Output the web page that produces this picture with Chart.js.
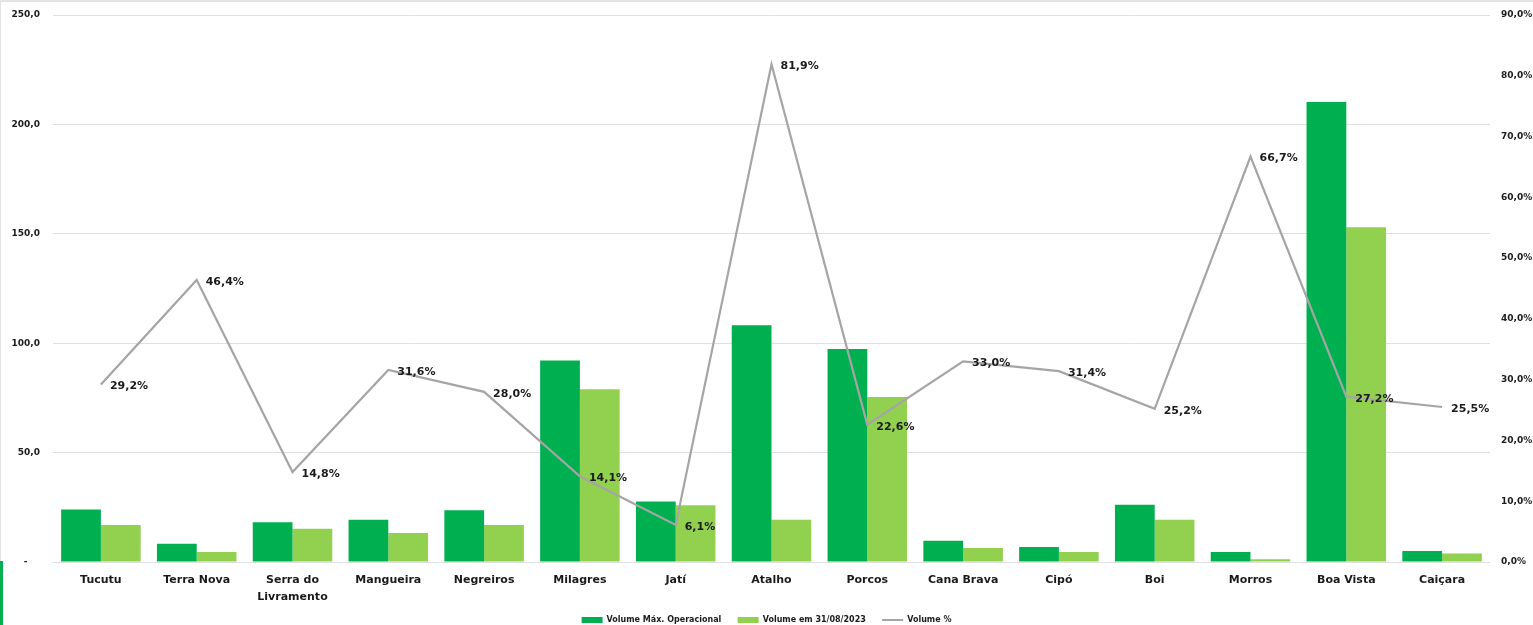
<!DOCTYPE html>
<html>
<head>
<meta charset="utf-8">
<script src="https://cdn.jsdelivr.net/npm/chart.js@4"></script>
<style>
  body { margin: 0; background: #fff; }
  #wrap { position: relative; width: 1533px; height: 625px; }
  #moldura { position: absolute; left: 0; top: 0; width: 1532px; height: 624px;
    border-top: 2px solid #e3e3e3; border-left: 1px solid #e3e3e3; pointer-events: none; }
  #faixa { position: absolute; left: 0; top: 561px; width: 3px; height: 64px; background: #00b050; }
</style>
</head>
<body>
<div id="wrap">
  <canvas id="myChart" width="1533" height="625"></canvas>
  <div id="moldura"></div>
  <div id="faixa"></div>
</div>
<script>
const acudes = ["Tucutu", "Terra Nova", ["Serra do", "Livramento"], "Mangueira", "Negreiros", "Milagres", "Jatí", "Atalho", "Porcos", "Cana Brava", "Cipó", "Boi", "Morros", "Boa Vista", "Caiçara"]
const volumeMax = [24.0, 8.3, 18.2, 19.3, 23.7, 92.1, 27.7, 108.2, 97.4, 9.7, 6.8, 26.2, 4.6, 210.2, 5.0]
const volumeAtual = [16.9, 4.6, 15.2, 13.2, 16.9, 78.9, 25.9, 19.3, 75.4, 6.4, 4.6, 19.3, 1.3, 153.0, 3.9]
const volumePct = [29.2, 46.4, 14.8, 31.6, 28.0, 14.1, 6.1, 81.9, 22.6, 33.0, 31.4, 25.2, 66.7, 27.2, 25.5]
const ticksEsq = [0, 50, 100, 150, 200, 250]
const ticksDir = [0, 10, 20, 30, 40, 50, 60, 70, 80, 90]

const fonte = "'DejaVu Sans'"
const corTexto = "#1a1a1a"

function virgula(v) {
    return v.toFixed(1).replace(".", ",")
}

// rotulos do % ao lado de cada ponto
const rotulosPct = {
    id: "rotulosPct",
    afterDatasetsDraw(chart) {
        const meta = chart.getDatasetMeta(2)
        const ctx = chart.ctx
        ctx.save()
        ctx.font = "bold 11px " + fonte
        ctx.fillStyle = corTexto
        ctx.textAlign = "left"
        ctx.textBaseline = "middle"
        meta.data.forEach((pt, i) => {
            ctx.fillText(virgula(volumePct[i]) + "%", pt.x + 9, pt.y + 2)
        })
        ctx.restore()
    }
}

const ctx = document.getElementById("myChart").getContext("2d")
window.myChart = new Chart(ctx, {
    type: "bar",
    data: {
        labels: acudes,
        datasets: [{
            label: "Volume Máx. Operacional",
            data: volumeMax,
            backgroundColor: "#00b050",
            borderWidth: 0,
            yAxisID: "y",
            order: 1
        }, {
            label: "Volume em 31/08/2023",
            data: volumeAtual,
            backgroundColor: "#92d050",
            borderWidth: 0,
            yAxisID: "y",
            order: 2
        }, {
            type: "line",
            label: "Volume %",
            data: volumePct,
            borderColor: "#a5a5a5",
            backgroundColor: "#a5a5a5",
            borderWidth: 2.2,
            pointRadius: 0,
            tension: 0,
            yAxisID: "y1",
            order: 0
        }]
    },
    options: {
        responsive: false,
        animation: false,
        layout: { padding: { top: 15, left: 0, right: 0, bottom: -9 } },
        datasets: { bar: { barPercentage: 1.0, categoryPercentage: 0.83 } },
        plugins: {
            tooltip: { enabled: false },
            legend: {
                position: "bottom",
                labels: {
                    usePointStyle: true,
                    pointStyleWidth: 21,
                    boxHeight: 6,
                    padding: 8,
                    color: corTexto,
                    font: { family: fonte, size: 8, weight: "bold" },
                    sort: (a, b) => a.datasetIndex - b.datasetIndex,
                    generateLabels(chart) {
                        const itens = Chart.defaults.plugins.legend.labels.generateLabels(chart)
                        itens.forEach(it => {
                            it.pointStyle = it.datasetIndex === 2 ? "line" : "rect"
                            if (it.datasetIndex === 2) it.lineWidth = 2
                            else it.text = it.text + "   "
                        })
                        return itens
                    }
                }
            }
        },
        scales: {
            x: {
                grid: { display: false },
                border: { display: false },
                ticks: {
                    color: corTexto,
                    font: { family: fonte, size: 11, weight: "bold", lineHeight: 1.6 },
                    padding: 1,
                    maxRotation: 0,
                    autoSkip: false
                },
                afterFit(scale) { scale.height = 46 }
            },
            y: {
                position: "left",
                min: 0,
                max: 250,
                afterBuildTicks(scale) { scale.ticks = ticksEsq.map(v => ({ value: v })) },
                grid: { color: "#e0e0e0", lineWidth: 1, drawTicks: false },
                border: { display: false },
                ticks: {
                    color: corTexto,
                    font: { family: fonte, size: 9, weight: "bold" },
                    padding: 13,
                    callback: v => v === 0 ? "-    " : virgula(v)
                },
                afterFit(scale) {
                    scale.width = 53
                    scale.paddingTop = 0
                    scale.paddingBottom = 0
                }
            },
            y1: {
                position: "right",
                min: 0,
                max: 90,
                afterBuildTicks(scale) { scale.ticks = ticksDir.map(v => ({ value: v })) },
                grid: { display: false, drawTicks: false },
                border: { display: false },
                ticks: {
                    color: corTexto,
                    font: { family: fonte, size: 9, weight: "bold" },
                    padding: 11,
                    callback: v => virgula(v) + "%"
                },
                afterFit(scale) {
                    scale.width = 43
                    scale.paddingTop = 0
                    scale.paddingBottom = 0
                }
            }
        }
    },
    plugins: [rotulosPct]
})
</script>
</body>
</html>
